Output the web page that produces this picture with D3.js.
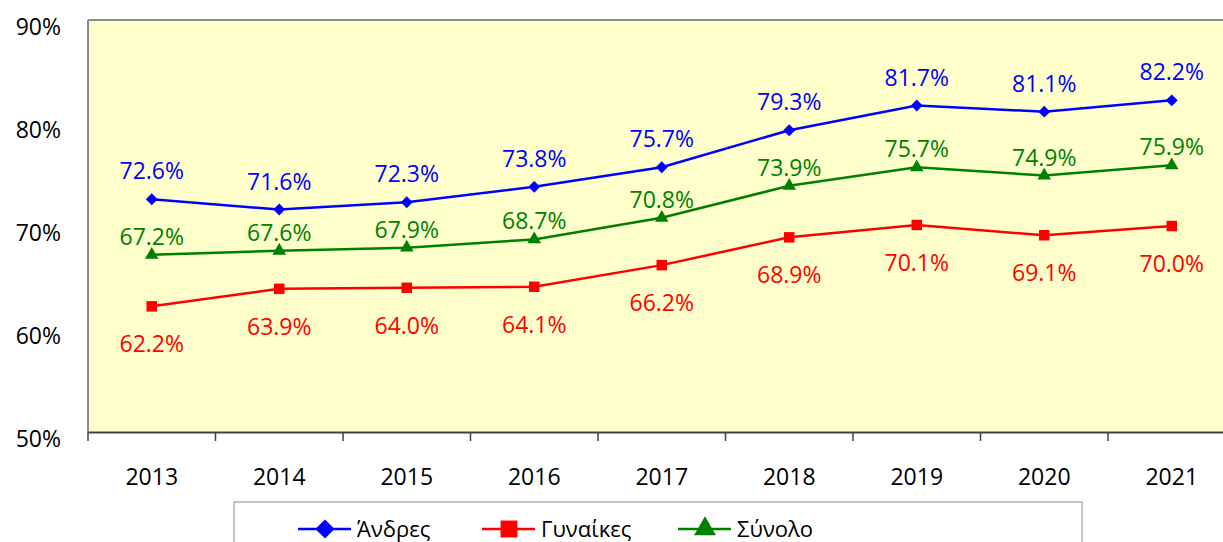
<!DOCTYPE html>
<html><head><meta charset="utf-8">
<script src="https://cdn.jsdelivr.net/npm/d3@7/dist/d3.min.js"></script>
<style>body{margin:0;background:#fff;}svg{display:block;font-family:"Open Sans",sans-serif;}</style>
</head><body>
<svg id="c" width="1223" height="542"></svg>
<script>
const years = ["2013","2014","2015","2016","2017","2018","2019","2020","2021"];
const andres = [72.6,71.6,72.3,73.8,75.7,79.3,81.7,81.1,82.2];
const gynaikes = [62.2,63.9,64.0,64.1,66.2,68.9,70.1,69.1,70.0];
const synolo = [67.2,67.6,67.9,68.7,70.8,73.9,75.7,74.9,75.9];
const yTicks = [50,60,70,80,90];
const seriesNames = ["Άνδρες","Γυναίκες","Σύνολο"];

const svg = d3.select("#c");
const L = 88, T = 20, B = 432, bandW = 127.5;
const R = L + bandW*years.length;
const x = d3.scaleBand().domain(years).range([L, R]);
const y = d3.scaleLinear().domain([50,90]).range([B, T]);

svg.append("rect").attr("x",L).attr("y",T).attr("width",R-L).attr("height",B-T).attr("fill","#FFFFCC");
svg.append("line").attr("x1",L).attr("x2",R).attr("y1",T).attr("y2",T).attr("stroke","#8c8c8c").attr("stroke-width",2);
svg.append("line").attr("x1",L).attr("x2",L).attr("y1",T).attr("y2",B).attr("stroke","#8c8c8c").attr("stroke-width",2);

// y axis labels
const ya = svg.append("g").attr("transform",`translate(${L},0)`)
  .call(d3.axisLeft(y).tickValues(yTicks).tickFormat(d=>d+"%").tickSize(0).tickPadding(27));
ya.select(".domain").remove();
ya.selectAll("text").attr("font-size",23).attr("font-family","Open Sans").attr("fill","#000").attr("dy","0.62em");

// x axis
const xa = svg.append("g").attr("transform",`translate(0,${B})`)
  .call(d3.axisBottom(x).tickSize(0).tickPadding(37));
xa.select(".domain").attr("stroke","#404040").attr("stroke-width",2);
xa.selectAll("text").attr("font-size",23).attr("font-family","Open Sans").attr("fill","#000");
const bounds = years.map(d=>x(d)).concat([R]);
svg.append("g").selectAll("line").data(bounds).join("line")
  .attr("x1",d=>d).attr("x2",d=>d).attr("y1",B).attr("y2",B+9).attr("stroke","#404040").attr("stroke-width",1.5);

const cx = d => x(d) + x.bandwidth()/2;
const series = [
  {name:seriesNames[0], vals:andres, color:"#0000FF", sym:d3.symbolDiamond2, size:90, dy:-28},
  {name:seriesNames[1], vals:gynaikes, color:"#FF0000", sym:d3.symbolSquare, size:110, dy:38},
  {name:seriesNames[2], vals:synolo, color:"#008000", sym:d3.symbolTriangle, size:80, dy:-18}
];
const line = d3.line().x((d,i)=>cx(years[i])).y(d=>y(d));
series.forEach(s=>{
  const g = svg.append("g");
  g.append("path").datum(s.vals).attr("d",line).attr("fill","none").attr("stroke",s.color).attr("stroke-width",2.5);
  g.selectAll("path.m").data(s.vals).join("path").attr("class","m")
    .attr("d",d3.symbol().type(s.sym).size(s.size))
    .attr("transform",(d,i)=>`translate(${cx(years[i])},${y(d)})`).attr("fill",s.color);
  g.selectAll("text").data(s.vals).join("text")
    .attr("x",(d,i)=>cx(years[i])).attr("y",d=>y(d)+s.dy).attr("dy","0.35em")
    .attr("text-anchor","middle").attr("font-size",23).attr("fill",s.color)
    .text(d=>d.toFixed(1)+"%");
});

// legend
const lg = svg.append("g");
lg.append("rect").attr("x",234).attr("y",502).attr("width",848).attr("height",60).attr("fill","#fff").attr("stroke","#8c8c8c").attr("stroke-width",1);
const lx = [298,482,678];
series.forEach((s,i)=>{
  const g = lg.append("g").attr("transform",`translate(${lx[i]},529)`);
  g.append("line").attr("x1",0).attr("x2",53).attr("stroke",s.color).attr("stroke-width",2.5);
  g.append("path").attr("d",d3.symbol().type(s.sym).size(s.size*2.6)).attr("transform","translate(27,0)").attr("fill",s.color);
  g.append("text").attr("x",59).attr("dy","0.35em").attr("font-size",22).attr("fill","#000").text(s.name);
});
</script>
</body></html>
